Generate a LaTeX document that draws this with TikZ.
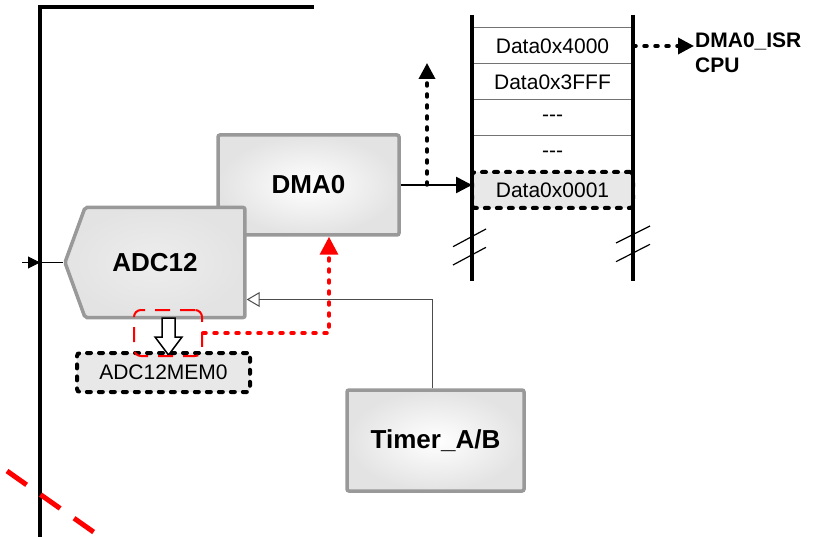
\documentclass[tikz,border=0pt]{standalone}
\usepackage{fontspec}
\setmainfont{Liberation Sans}
\usetikzlibrary{arrows.meta, positioning, shapes.symbols}
\tikzset{
  block/.style={rectangle, rounded corners=2pt, draw=black!40, line width=3.5pt,
              shading=radial, inner color=white, outer color=black!11,
              font=\fontsize{26}{30}\selectfont\bfseries, align=center},
  adcblock/.style={block, signal, signal to=west, signal from=nowhere, signal pointer angle=140,
              inner color=black!7, outer color=black!11},
  cell/.style={rectangle, minimum width=161, minimum height=36, inner sep=0pt, outer sep=0pt,
              font=\fontsize{21}{24}\selectfont},
  dotbox/.style={rectangle, draw=black, fill=black!9, line width=4pt, line cap=round,
              dash pattern=on 4pt off 8pt, rounded corners=3pt, inner sep=0pt, outer sep=0pt,
              font=\fontsize{21}{24}\selectfont},
  selbox/.style={rectangle, draw=red, line width=2pt, dash pattern=on 15pt off 10pt,
              rounded corners=7pt, minimum width=68, minimum height=46},
  isrtext/.style={inner sep=1pt, font=\fontsize{21}{24}\selectfont\bfseries},
  bus/.style={line width=3.5pt},
  sep/.style={line width=1pt, draw=black!55},
  flow/.style={-{Triangle[length=16pt, width=16pt]}, line width=2.5pt},
  dotflow/.style={flow, line width=3.5pt, line cap=round, dash pattern=on 3pt off 8pt},
  redflow/.style={dotflow, red, -{Triangle[length=18pt, width=18pt]}},
  trigger/.style={-{Triangle[open, length=13pt, width=15pt]}, line width=1pt, draw=black!70},
  inflow/.style={-{Triangle[length=12pt, width=12pt]}, line width=1pt},
  thinline/.style={line width=1pt},
  hollow/.style={draw=black, fill=white, line width=1.5pt},
  cut/.style={draw=red, line width=5pt, dash pattern=on 24pt off 17pt},
  breakmark/.style={line width=1.2pt},
}
\begin{document}
\begin{tikzpicture}[x=1pt, y=-1pt]
  \useasboundingbox (0,0) rectangle (819,537);
  % bus frame
  \draw[bus] (40,537) |- (314,7);
  \draw[cut] (7,471) -- (95,533);
  % blocks
  \node[block, minimum width=181, minimum height=100] (dma) at (308.5,185) {DMA0};
  \node[adcblock, minimum width=180, minimum height=110] (adc) at (165,262.5) {\hspace*{-20pt}ADC12};
  \node[block, minimum width=177, minimum height=101] (timer) at (435.5,440.5) {Timer\_A/B};
  \node[dotbox, minimum width=173, minimum height=39] (mem) at (163.5,372.5) {ADC12MEM0};
  \draw[hollow] (162,318) -- (175,318) -- (175,337) -- (182,337) -- (168.5,355)
                -- (155,337) -- (162,337) -- cycle;
  \node[selbox] (sel) at (168,333) {};
  % memory
  \node[cell] (d4000) at (552.5,46) {Data0x4000};
  \node[cell, below=0pt of d4000] (d3fff) {Data0x3FFF};
  \node[cell, below=0pt of d3fff] (dots1) {{-}{-}{-}};
  \node[cell, below=0pt of dots1] (dots2) {{-}{-}{-}};
  \node[cell, dotbox, minimum height=36, below=0pt of dots2] (d0001) {Data0x0001};
  \foreach \row in {d4000, d3fff, dots1, dots2}
    \draw[sep] (\row.north west) -- (\row.north east);
  \draw[bus] (472,15) -- (472,281);
  \draw[bus] (633,15) -- (633,281);
  \draw[breakmark] (453,246.7) -- (486,229);
  \draw[breakmark] (453,265) -- (486,247.3);
  \draw[breakmark] (616,243) -- (650,226);
  \draw[breakmark] (616,261.7) -- (650,244.3);
  % ISR
  \node[isrtext, anchor=base west] (isr) at (694,48) {DMA0\_ISR};
  \node[isrtext, anchor=base west] (cpu) at ([yshift=-25pt]isr.base west) {CPU};
  % connectors
  \coordinate (in) at (22,262.5);
  \coordinate (busin) at (40,262.5);
  \coordinate (upend) at (427,63);
  \draw[inflow] (in) -- (busin);
  \draw[thinline] (busin) -- (adc.west);
  \draw[flow] (dma.east) -- (dma.east -| d0001.west);
  \draw[dotflow] (upend |- dma.east) -- (upend);
  \draw[dotflow] (d4000.east) -- (d4000.east -| isr.west);
  \draw[redflow] (sel.east) -| ([xshift=20.5pt]dma.south);
  \draw[trigger] ([xshift=-3.5pt]timer.north) |- ([yshift=-37pt]adc.east);
\end{tikzpicture}
\end{document}
